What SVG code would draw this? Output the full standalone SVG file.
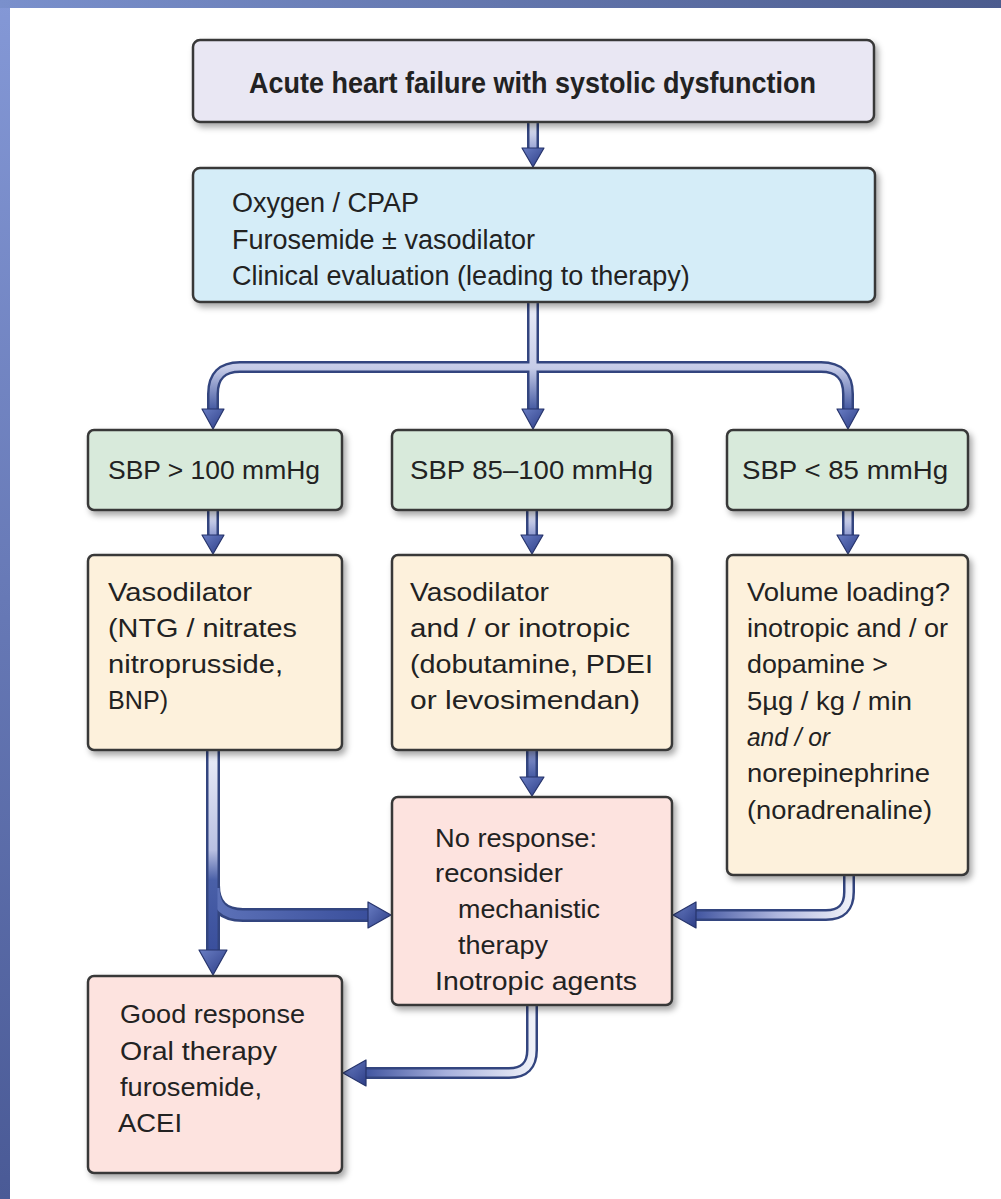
<svg xmlns="http://www.w3.org/2000/svg" width="1001" height="1199" viewBox="0 0 1001 1199">
<defs>
<style>
.box{stroke:#383838;stroke-width:2.5;filter:url(#sh)}
.t{font-family:"Liberation Sans",Arial,sans-serif;font-size:26px;fill:#222}
.tc{font-family:"Liberation Sans",Arial,sans-serif;font-size:27px;fill:#222}
.tb{font-family:"Liberation Sans",Arial,sans-serif;font-size:30px;font-weight:bold;fill:#222}
.out{fill:none;stroke:#33457f;stroke-linejoin:round}
.head{fill:url(#hg);stroke:#26346c;stroke-width:1.2;stroke-linejoin:round}
</style>
<filter id="sh" x="-10%" y="-10%" width="125%" height="130%">
<feDropShadow dx="3" dy="4" stdDeviation="3" flood-color="#000" flood-opacity="0.35"/>
</filter>
<linearGradient id="lstrip" x1="0" y1="0" x2="0" y2="1">
<stop offset="0" stop-color="#8498d6"/><stop offset="1" stop-color="#4a5a96"/>
</linearGradient>
<linearGradient id="tstrip" x1="0" y1="0" x2="1" y2="0">
<stop offset="0" stop-color="#7a90cc"/><stop offset="1" stop-color="#4c5c8e"/>
</linearGradient>
<linearGradient id="hg" x1="0" y1="0" x2="1" y2="1">
<stop offset="0" stop-color="#6a7ec4"/><stop offset="1" stop-color="#2c3d86"/>
</linearGradient>
<linearGradient id="g1" gradientUnits="userSpaceOnUse" x1="0" y1="123" x2="0" y2="152">
<stop offset="0" stop-color="#eef0f8"/><stop offset="1" stop-color="#8f9bd0"/>
</linearGradient>
<linearGradient id="g2" gradientUnits="userSpaceOnUse" x1="0" y1="302" x2="0" y2="412">
<stop offset="0" stop-color="#eceef8"/><stop offset="0.6" stop-color="#c6cce8"/><stop offset="1" stop-color="#3d539e"/>
</linearGradient>
<linearGradient id="g3" gradientUnits="userSpaceOnUse" x1="0" y1="510" x2="0" y2="538">
<stop offset="0" stop-color="#eef0f8"/><stop offset="1" stop-color="#8592cc"/>
</linearGradient>
<linearGradient id="g4" gradientUnits="userSpaceOnUse" x1="0" y1="750" x2="0" y2="950">
<stop offset="0" stop-color="#eceef8"/><stop offset="0.5" stop-color="#b9c0e2"/><stop offset="0.65" stop-color="#4a60a8"/><stop offset="1" stop-color="#3a4f9c"/>
</linearGradient>
<linearGradient id="g5" gradientUnits="userSpaceOnUse" x1="213" y1="0" x2="370" y2="0">
<stop offset="0" stop-color="#5d72b8"/><stop offset="1" stop-color="#3a4f9c"/>
</linearGradient>
<linearGradient id="g6" gradientUnits="userSpaceOnUse" x1="0" y1="750" x2="0" y2="780">
<stop offset="0" stop-color="#8e9bd0"/><stop offset="1" stop-color="#3f549e"/>
</linearGradient>
<linearGradient id="g7" gradientUnits="userSpaceOnUse" x1="849" y1="0" x2="690" y2="0">
<stop offset="0" stop-color="#eef0f8"/><stop offset="0.45" stop-color="#aeb6de"/><stop offset="1" stop-color="#3a4f9c"/>
</linearGradient>
<linearGradient id="g8" gradientUnits="userSpaceOnUse" x1="532" y1="0" x2="360" y2="0">
<stop offset="0" stop-color="#eef0f8"/><stop offset="0.5" stop-color="#a7b0dc"/><stop offset="1" stop-color="#3a4f9c"/>
</linearGradient>
</defs>

<rect x="0" y="0" width="1001" height="1199" fill="#ffffff"/>
<rect x="0" y="0" width="10" height="1199" fill="url(#lstrip)"/>
<rect x="0" y="0" width="1001" height="8" fill="url(#tstrip)"/>

<g id="connectors">
<path class="out" stroke-width="12" d="M533,123 V152"/>
<path fill="none" stroke="url(#g1)" stroke-width="7" d="M533,122 V152"/>
<polygon class="head" points="522,148 544,148 533,167"/>
<path class="out" stroke-width="12" d="M533,302 V412 M533,367 H240 Q213,367 213,394 V412 M533,367 H821 Q848,367 848,394 V412"/>
<path fill="none" stroke="url(#g2)" stroke-width="7" stroke-linejoin="round" d="M533,301 V412 M533,367 H240 Q213,367 213,394 V412 M533,367 H821 Q848,367 848,394 V412"/>
<polygon class="head" points="202,409 224,409 213,429"/>
<polygon class="head" points="522,409 544,409 533,429"/>
<polygon class="head" points="837,409 859,409 848,429"/>
<path class="out" stroke-width="12" d="M213,510 V538 M532,510 V538 M848,510 V538"/>
<path fill="none" stroke="url(#g3)" stroke-width="7" d="M213,509 V538 M532,509 V538 M848,509 V538"/>
<polygon class="head" points="202,535 224,535 213,554"/>
<polygon class="head" points="521,535 543,535 532,554"/>
<polygon class="head" points="837,535 859,535 848,554"/>
<path class="out" stroke-width="14" d="M213,750 V952 M213,885 Q213,915 243,915 H372"/>
<path fill="none" stroke="url(#g5)" stroke-width="9" d="M215,888 Q215,915 243,915 H372"/>
<path fill="none" stroke="url(#g4)" stroke-width="9" d="M213,749 V952"/>
<polygon class="head" points="199,950 227,950 213,975"/>
<polygon class="head" points="368,902 368,928 391,915"/>
<path class="out" stroke-width="12" d="M532,750 V780"/>
<path fill="none" stroke="url(#g6)" stroke-width="7" d="M532,749 V780"/>
<polygon class="head" points="520,777 544,777 532,796"/>
<path class="out" stroke-width="12" d="M849,875 V892 Q849,915 826,915 H694"/>
<path fill="none" stroke="url(#g7)" stroke-width="7" d="M849,874 V892 Q849,915 826,915 H694"/>
<polygon class="head" points="696,902 696,928 673,915"/>
<path class="out" stroke-width="12" d="M532,1005 V1050 Q532,1073 509,1073 H364"/>
<path fill="none" stroke="url(#g8)" stroke-width="7" d="M532,1004 V1050 Q532,1073 509,1073 H364"/>
<polygon class="head" points="366,1060 366,1086 343,1073"/>
</g>

<g id="n-title">
<rect class="box" x="193" y="40" width="681" height="82" rx="7" fill="#e9e7f3"/>
<text class="tb" x="249" y="93" textLength="567" lengthAdjust="spacingAndGlyphs">Acute heart failure with systolic dysfunction</text>
</g>

<g id="n-initial">
<rect class="box" x="193" y="168" width="682" height="134" rx="7" fill="#d5edf8"/>
<text class="tc" x="232" y="212">Oxygen / CPAP</text>
<text class="tc" x="232" y="249">Furosemide ± vasodilator</text>
<text class="tc" x="232" y="285">Clinical evaluation (leading to therapy)</text>
</g>

<g id="n-sbp-high">
<rect class="box" x="88" y="430" width="254" height="80" rx="6" fill="#d8eadb"/>
<text class="t" x="108" y="479" textLength="212" lengthAdjust="spacingAndGlyphs">SBP &gt; 100 mmHg</text>
</g>
<g id="n-sbp-mid">
<rect class="box" x="392" y="430" width="280" height="80" rx="6" fill="#d8eadb"/>
<text class="t" x="410" y="479" textLength="243" lengthAdjust="spacingAndGlyphs">SBP 85–100 mmHg</text>
</g>
<g id="n-sbp-low">
<rect class="box" x="727" y="430" width="241" height="80" rx="6" fill="#d8eadb"/>
<text class="t" x="742" y="479" textLength="206" lengthAdjust="spacingAndGlyphs">SBP &lt; 85 mmHg</text>
</g>

<g id="n-vaso">
<rect class="box" x="88" y="555" width="254" height="195" rx="6" fill="#fdf1dc"/>
<text class="t" x="108" y="601" textLength="144" lengthAdjust="spacingAndGlyphs">Vasodilator</text>
<text class="t" x="108" y="637" textLength="189" lengthAdjust="spacingAndGlyphs">(NTG / nitrates</text>
<text class="t" x="108" y="673" textLength="175" lengthAdjust="spacingAndGlyphs">nitroprusside,</text>
<text class="t" x="108" y="709" textLength="60" lengthAdjust="spacingAndGlyphs">BNP)</text>
</g>

<g id="n-vaso-ino">
<rect class="box" x="392" y="555" width="280" height="195" rx="6" fill="#fdf1dc"/>
<text class="t" x="410" y="601" textLength="139" lengthAdjust="spacingAndGlyphs">Vasodilator</text>
<text class="t" x="410" y="637" textLength="220" lengthAdjust="spacingAndGlyphs">and / or inotropic</text>
<text class="t" x="410" y="673" textLength="243" lengthAdjust="spacingAndGlyphs">(dobutamine, PDEI</text>
<text class="t" x="410" y="709" textLength="230" lengthAdjust="spacingAndGlyphs">or levosimendan)</text>
</g>

<g id="n-volume">
<rect class="box" x="727" y="555" width="241" height="320" rx="6" fill="#fdf1dc"/>
<text class="t" x="747" y="601" textLength="203" lengthAdjust="spacingAndGlyphs">Volume loading?</text>
<text class="t" x="747" y="637" textLength="201" lengthAdjust="spacingAndGlyphs">inotropic and / or</text>
<text class="t" x="747" y="673" textLength="141" lengthAdjust="spacingAndGlyphs">dopamine &gt;</text>
<text class="t" x="747" y="710" textLength="165" lengthAdjust="spacingAndGlyphs">5µg / kg / min</text>
<text class="t" x="747" y="746" font-style="italic" textLength="83" lengthAdjust="spacingAndGlyphs">and / or</text>
<text class="t" x="747" y="782" textLength="183" lengthAdjust="spacingAndGlyphs">norepinephrine</text>
<text class="t" x="747" y="819" textLength="185" lengthAdjust="spacingAndGlyphs">(noradrenaline)</text>
</g>

<g id="n-noresponse">
<rect class="box" x="392" y="797" width="280" height="208" rx="6" fill="#fde3df"/>
<text class="t" x="435" y="847" textLength="162" lengthAdjust="spacingAndGlyphs">No response:</text>
<text class="t" x="435" y="882" textLength="128" lengthAdjust="spacingAndGlyphs">reconsider</text>
<text class="t" x="458" y="918" textLength="142" lengthAdjust="spacingAndGlyphs">mechanistic</text>
<text class="t" x="458" y="954" textLength="90" lengthAdjust="spacingAndGlyphs">therapy</text>
<text class="t" x="435" y="990" textLength="202" lengthAdjust="spacingAndGlyphs">Inotropic agents</text>
</g>

<g id="n-goodresponse">
<rect class="box" x="88" y="976" width="254" height="197" rx="6" fill="#fde3df"/>
<text class="t" x="120" y="1023" textLength="185" lengthAdjust="spacingAndGlyphs">Good response</text>
<text class="t" x="120" y="1060" textLength="157" lengthAdjust="spacingAndGlyphs">Oral therapy</text>
<text class="t" x="120" y="1096" textLength="142" lengthAdjust="spacingAndGlyphs">furosemide,</text>
<text class="t" x="118" y="1132" textLength="64" lengthAdjust="spacingAndGlyphs">ACEI</text>
</g>
</svg>
